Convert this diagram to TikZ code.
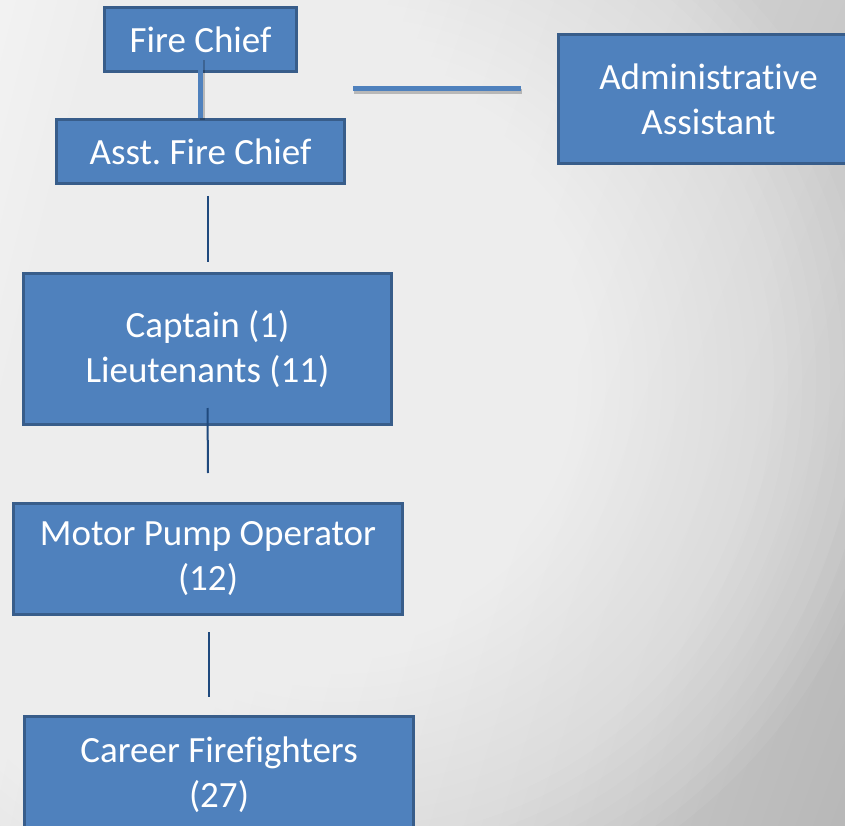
\documentclass[tikz,border=0pt]{standalone}
\usepackage{fontspec}
\setmainfont{Carlito}[Ligatures=NoCommon]
\usetikzlibrary{calc,shadings}
\definecolor{boxfill}{HTML}{4F81BD}
\definecolor{boxline}{HTML}{385D8A}
\definecolor{thinline}{HTML}{1F497D}
\frenchspacing
\begin{document}
\begin{tikzpicture}[x=1pt,y=-1pt,
  orgbox/.style={rectangle, draw=boxline, line width=3pt, fill=boxfill,
    text=white, font=\fontsize{37}{45}\selectfont, align=center, inner sep=0pt},
  thickconn/.style={draw=boxfill, line width=5pt},
  thickshadow/.style={draw=black, opacity=0.22, line width=5pt},
  thinconn/.style={draw=thinline, line width=2pt},
  glow/.style={fill=white, opacity=0.056}]
\useasboundingbox (0,0) rectangle (845,826);
\clip (0,0) rectangle (845,826);
% background: four-corner gradient plus a soft white glow
\shade[upper left=black!5, upper right=black!21, lower left=black!9, lower right=black!28]
  (0,0) rectangle (845,826);
\foreach \r in {14,28,...,560} { \fill[glow] (340,380) circle (\r); }

\node[orgbox, minimum width=192pt, minimum height=64pt] (fc) at (200.5,39.5) {Fire Chief};
\node[orgbox, minimum width=288pt, minimum height=64pt] (asst) at (200.5,151.5) {Asst. Fire Chief};
\node[orgbox, minimum width=300pt, minimum height=129pt] (adm) at (708.5,99) {Administrative\\Assistant};
\node[orgbox, minimum width=368pt, minimum height=151pt] (cap) at (207.5,349) {Captain (1)\\Lieutenants (11)};
\node[orgbox, minimum width=389pt, minimum height=111pt] (mpo) at (208,559) {Motor Pump Operator\\(12)};
\node[orgbox, minimum width=389pt, minimum height=117pt] (cff) at (219,775) {Career Firefighters\\(27)};

% thick connectors with soft shadow
\coordinate (fcA) at ($(fc.center)+(0,19)$);
\coordinate (h1) at (353,89);
\coordinate (h2) at (521,89);
\draw[thickshadow] ($(fcA)+(1.5,2)$) -- ($(asst.north)+(1.5,2)$);
\draw[thickconn] (fcA) -- (asst.north);
\draw[thickshadow] ($(h1)+(1,2.5)$) -- ($(h2)+(1,2.5)$);
\draw[thickconn] (h1) -- (h2);

% thin connectors
\draw[thinconn] ($(asst.south -| cap.north)+(0,11)$) -- ($(cap.north)+(0,-10)$);
\draw[thinconn] ($(cap.south)+(0,-18)$) -- ($(mpo.north)+(0,-29)$);
\draw[thinconn] ($(mpo.south -| 209,0)+(0,16)$) -- ($(cff.north -| 209,0)+(0,-18)$);
\end{tikzpicture}
\end{document}
